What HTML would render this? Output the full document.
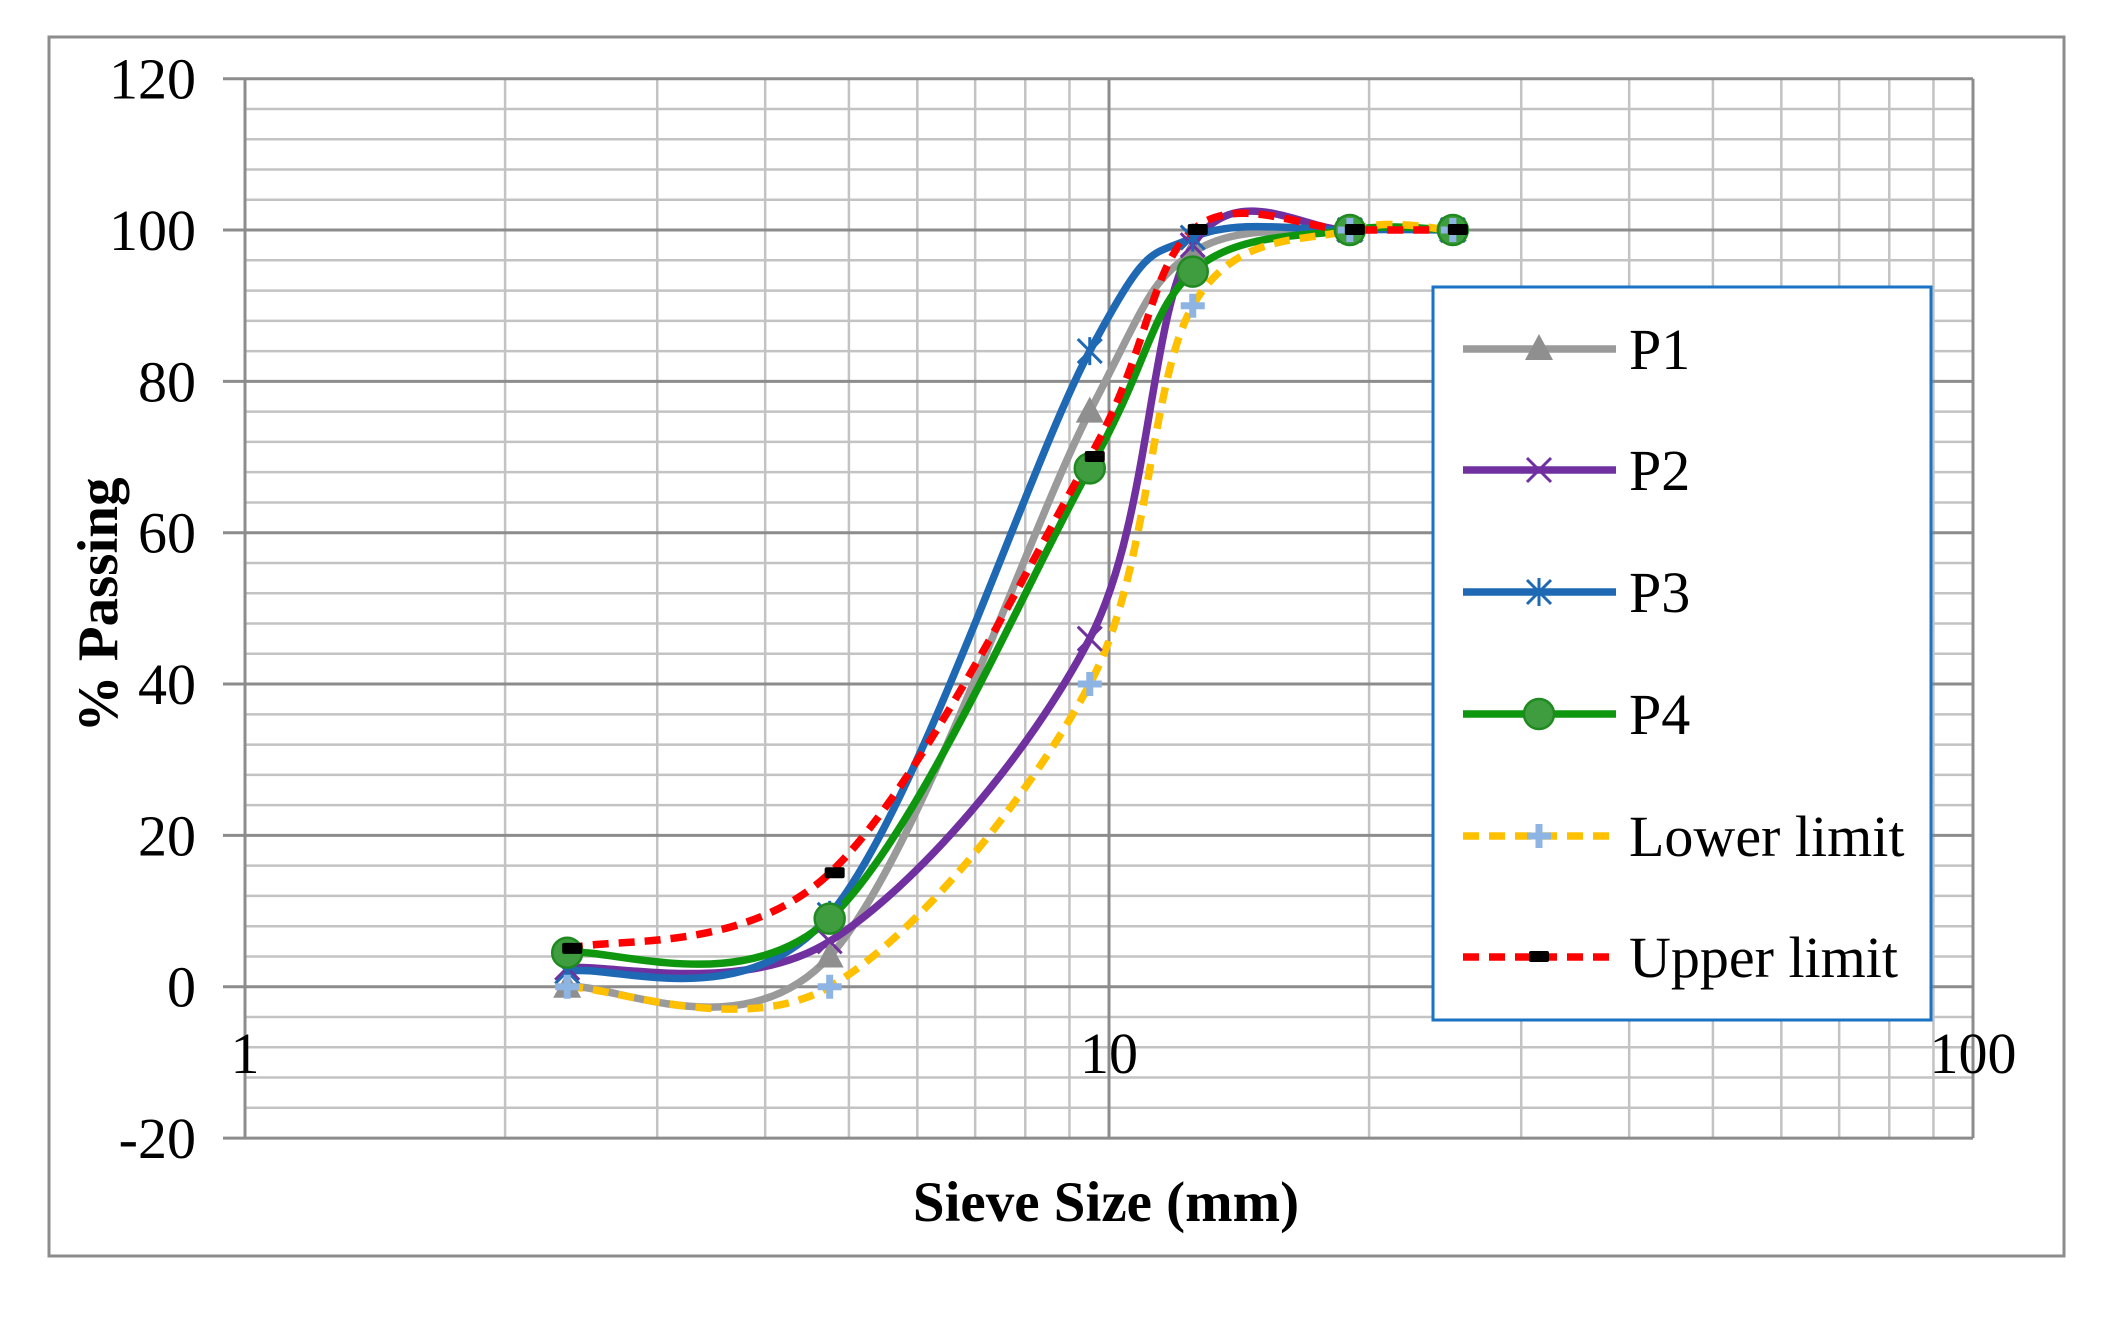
<!DOCTYPE html>
<html><head><meta charset="utf-8"><style>
html,body{margin:0;padding:0;background:#fff;}
svg{display:block;}
text{font-family:"Liberation Serif",serif;fill:#000;}
</style></head><body>
<svg id="s" width="2118" height="1324" xmlns="http://www.w3.org/2000/svg">
<rect x="0" y="0" width="2118" height="1324" fill="#fff"/>
<rect x="49" y="37" width="2015" height="1219" fill="none" stroke="#8c8c8c" stroke-width="3"/>
<g id="grid"></g>
<g id="series"></g>
<g id="labels"></g>
<text x="1106" y="1221" font-size="57" font-weight="bold" text-anchor="middle">Sieve Size (mm)</text>
<text transform="translate(117,605) rotate(-90)" font-size="57" font-weight="bold" text-anchor="middle">% Passing</text>
<rect x="1433" y="287" width="498" height="733" fill="#fff" stroke="#1a73c4" stroke-width="3"/>
<g id="legend"></g>
</svg>
<script>
const NS="http://www.w3.org/2000/svg";
const X0=245,X1=1973,Y120=78.7,PU=7.567;
const px=v=>X0+(X1-X0)/2*Math.log10(v);
const py=v=>Y120+(120-v)*PU;
function el(p,tag,a){const e=document.createElementNS(NS,tag);for(const k in a)e.setAttribute(k,a[k]);p.appendChild(e);return e;}
const g=document.getElementById('grid');
for(let v=-20;v<=120;v+=4){ if(v%20) el(g,'line',{x1:X0,x2:X1,y1:py(v),y2:py(v),stroke:'#c3c3c3','stroke-width':2.5}); }
for(const d of [1,10]) for(let k=2;k<=9;k++){const x=px(d*k);el(g,'line',{x1:x,x2:x,y1:py(120),y2:py(-20),stroke:'#c3c3c3','stroke-width':2.5});}
for(let v=-20;v<=120;v+=20) el(g,'line',{x1:X0-22,x2:X1,y1:py(v),y2:py(v),stroke:'#8c8c8c','stroke-width':3});
for(const d of [1,10,100]){const x=px(d);el(g,'line',{x1:x,x2:x,y1:py(120),y2:py(-20),stroke:'#8c8c8c','stroke-width':3});}
const L=document.getElementById('labels');
for(let v=-20;v<=120;v+=20){const t=el(L,'text',{x:196,y:py(v)+20,'font-size':58,'text-anchor':'end'});t.textContent=v;}
for(const d of [1,10,100]){const t=el(L,'text',{x:px(d),y:1073,'font-size':58,'text-anchor':'middle'});t.textContent=d;}
const xs=[2.36,4.75,9.5,12.5,19,25];
const S=[
 {n:'P1',c:'#9a9a9a',d:[0,4,76,97,100,100],m:'tri'},
 {n:'P2',c:'#7030a0',d:[2.5,6,46,98,100,100],m:'x'},
 {n:'P3',c:'#1f69b4',d:[2,9.5,84,99,100,100],m:'ast'},
 {n:'P4',c:'#0f960f',d:[4.5,9,68.5,94.5,100,100],m:'circ'},
 {n:'Lower limit',c:'#ffc000',d:[0,0,40,90,100,100],m:'plus',dash:'16 10'},
 {n:'Upper limit',c:'#ff0000',d:[5,15,70,100,100,100],m:'sq',dash:'16 10'}
];
function smooth(pts){
 let d='M'+pts[0][0]+','+pts[0][1];
 for(let i=0;i<pts.length-1;i++){
  const p0=pts[Math.max(i-1,0)],p1=pts[i],p2=pts[i+1],p3=pts[Math.min(i+2,pts.length-1)];
  const c1=[p1[0]+(p2[0]-p0[0])/6,p1[1]+(p2[1]-p0[1])/6];
  const c2=[p2[0]-(p3[0]-p1[0])/6,p2[1]-(p3[1]-p1[1])/6];
  d+=' C'+c1+' '+c2+' '+p2;
 }
 return d;
}
function marker(p,type,x,y,c){
 if(type==='tri') el(p,'polygon',{points:`${x},${y-15} ${x-14},${y+11} ${x+14},${y+11}`,fill:'#8f8f8f'});
 else if(type==='x'){el(p,'path',{d:`M${x-12},${y-12}L${x+12},${y+12}M${x-12},${y+12}L${x+12},${y-12}`,stroke:c,'stroke-width':3,fill:'none'});}
 else if(type==='ast'){el(p,'path',{d:`M${x-12},${y-12}L${x+12},${y+12}M${x-12},${y+12}L${x+12},${y-12}M${x},${y-14}L${x},${y+14}`,stroke:c,'stroke-width':3,fill:'none'});}
 else if(type==='circ') el(p,'circle',{cx:x,cy:y,r:15,fill:'#3f9d3f',stroke:'#1f8a1f','stroke-width':2.5});
 else if(type==='plus') el(p,'path',{d:`M${x-12},${y}L${x+12},${y}M${x},${y-12}L${x},${y+12}`,stroke:'#8db4e2','stroke-width':7,fill:'none'});
 else if(type==='sq'){el(p,'rect',{x:x-10,y:y-6,width:20,height:11,fill:'#000',rx:2});}
}
const G=document.getElementById('series');
for(const s of S){
 const pts=xs.map((x,i)=>[px(x),py(s.d[i])]);
 const a={d:smooth(pts),fill:'none',stroke:s.c,'stroke-width':7.5,'stroke-linecap':s.dash?'butt':'round'};
 if(s.dash)a['stroke-dasharray']=s.dash;
 el(G,'path',a);
}
for(const s of S){xs.forEach((x,i)=>marker(G,s.m,px(x)+(s.m==='sq'?5:0),py(s.d[i]),s.c));}
const LG=document.getElementById('legend');
const ly=[349,470,592,714,836,957];
S.forEach((s,i)=>{
 const a={x1:1463,x2:1616,y1:ly[i],y2:ly[i],stroke:s.c,'stroke-width':7.5};
 if(s.dash)a['stroke-dasharray']=s.dash;
 el(LG,'line',a);
 marker(LG,s.m,1539,ly[i],s.c);
 const t=el(LG,'text',{x:1629,y:ly[i]+20,'font-size':58});t.textContent=s.n;
});
</script>
</body></html>
